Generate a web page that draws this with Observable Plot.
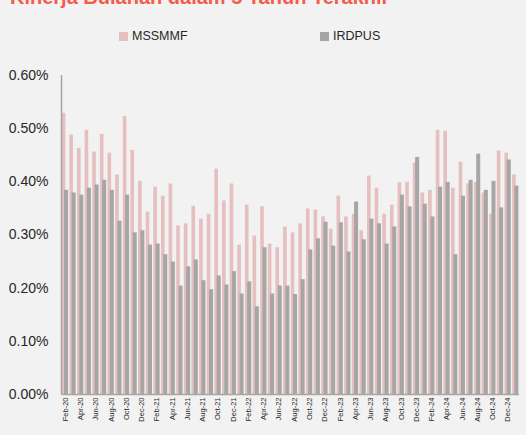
<!DOCTYPE html>
<html>
<head>
<meta charset="utf-8">
<script src="https://cdn.jsdelivr.net/npm/d3@7"></script>
<script src="https://cdn.jsdelivr.net/npm/@observablehq/plot@0.6"></script>
<style>
  html, body { margin: 0; padding: 0; background: #f2f2f2; width: 526px; height: 435px; overflow: hidden; position: relative; font-family: "Liberation Sans", Arial, sans-serif; }
  #title { position: absolute; left: 10px; top: -14.6px; line-height: 24px; font-size: 20px; font-weight: bold; color: #f45b4b; white-space: nowrap; }
  .lg { position: absolute; top: 29px; font-size: 12.5px; color: #262626; line-height: 14px; white-space: nowrap; }
  .sw { display: inline-block; width: 9px; height: 9px; vertical-align: -1px; margin-right: 4px; }
  #chart { position: absolute; left: 0; top: 50px; }
</style>
</head>
<body>
<div id="title">Kinerja Bulanan dalam 5 Tahun Terakhir</div>
<div class="lg" style="left:119px"><span class="sw" style="background:#e6bfbf"></span>MSSMMF</div>
<div class="lg" style="left:320px"><span class="sw" style="background:#a6a6a6"></span>IRDPUS</div>
<div id="chart"></div>
<script>
const months = [
  "Feb-20","Mar-20","Apr-20","May-20","Jun-20","Jul-20","Aug-20","Sep-20","Oct-20","Nov-20","Dec-20",
  "Jan-21","Feb-21","Mar-21","Apr-21","May-21","Jun-21","Jul-21","Aug-21","Sep-21","Oct-21","Nov-21","Dec-21",
  "Jan-22","Feb-22","Mar-22","Apr-22","May-22","Jun-22","Jul-22","Aug-22","Sep-22","Oct-22","Nov-22","Dec-22",
  "Jan-23","Feb-23","Mar-23","Apr-23","May-23","Jun-23","Jul-23","Aug-23","Sep-23","Oct-23","Nov-23","Dec-23",
  "Jan-24","Feb-24","Mar-24","Apr-24","May-24","Jun-24","Jul-24","Aug-24","Sep-24","Oct-24","Nov-24","Dec-24",
  "Jan-25"
];
// Monthly returns in percent
const mssmmf = [
  0.529,0.488,0.463,0.497,0.456,0.489,0.454,0.413,0.523,0.459,0.401,
  0.343,0.390,0.373,0.396,0.317,0.321,0.354,0.330,0.339,0.424,0.364,0.396,
  0.281,0.356,0.298,0.353,0.283,0.276,0.315,0.304,0.321,0.349,0.347,0.334,
  0.311,0.373,0.334,0.339,0.308,0.411,0.388,0.339,0.356,0.398,0.399,0.435,
  0.379,0.384,0.497,0.495,0.388,0.437,0.396,0.399,0.379,0.339,0.458,0.454,
  0.413
];
const irdpus = [
  0.384,0.379,0.375,0.388,0.394,0.403,0.384,0.326,0.375,0.304,0.308,
  0.281,0.283,0.263,0.249,0.204,0.240,0.253,0.214,0.197,0.223,0.206,0.231,
  0.189,0.212,0.165,0.276,0.189,0.204,0.204,0.188,0.216,0.272,0.293,0.324,
  0.279,0.323,0.268,0.362,0.291,0.330,0.321,0.283,0.315,0.375,0.353,0.446,
  0.358,0.334,0.390,0.399,0.263,0.373,0.403,0.452,0.384,0.401,0.351,0.441,
  0.392
];
const yTicks = [0, 0.1, 0.2, 0.3, 0.4, 0.5, 0.6];
const xTicks = months.filter((m, i) => i % 2 === 0);

const rowsA = months.map((m, i) => ({month: m, value: mssmmf[i]}));
const rowsB = months.map((m, i) => ({month: m, value: irdpus[i]}));

const marginLeft = 61, marginRight = 7, W = 526;
const bw = (W - marginLeft - marginRight) / months.length;

const chart = Plot.plot({
  width: W,
  height: 385,
  marginTop: 25,
  marginBottom: 41,
  marginLeft,
  marginRight,
  style: {background: "transparent", fontFamily: "Liberation Sans, Arial, sans-serif", color: "#262626"},
  x: {type: "band", domain: months, padding: 0, label: null},
  y: {domain: [0, 0.6], label: null},
  marks: [
    Plot.barY(rowsA, {x: "month", y: "value", fill: "#e6bfbf", insetLeft: 0.7, insetRight: 3.3}),
    Plot.barY(rowsB, {x: "month", y: "value", fill: "#a6a6a6", insetLeft: 3.0, insetRight: 0.6}),
    Plot.ruleY([0], {stroke: "#a6a6a6", strokeWidth: 1.5}),
    Plot.ruleX([months[0]], {stroke: "#a6a6a6", strokeWidth: 1.5, dx: -bw / 2, y1: 0, y2: 0.6}),
    Plot.axisY({ticks: yTicks, tickSize: 0, tickPadding: 13, fontSize: 14, tickFormat: d => d.toFixed(2) + "%", label: null}),
    Plot.axisX({ticks: xTicks, tickSize: 0, tickPadding: 3, tickRotate: -90, fontSize: 7.5, label: null})
  ]
});
document.getElementById("chart").appendChild(chart);
</script>
</body>
</html>
